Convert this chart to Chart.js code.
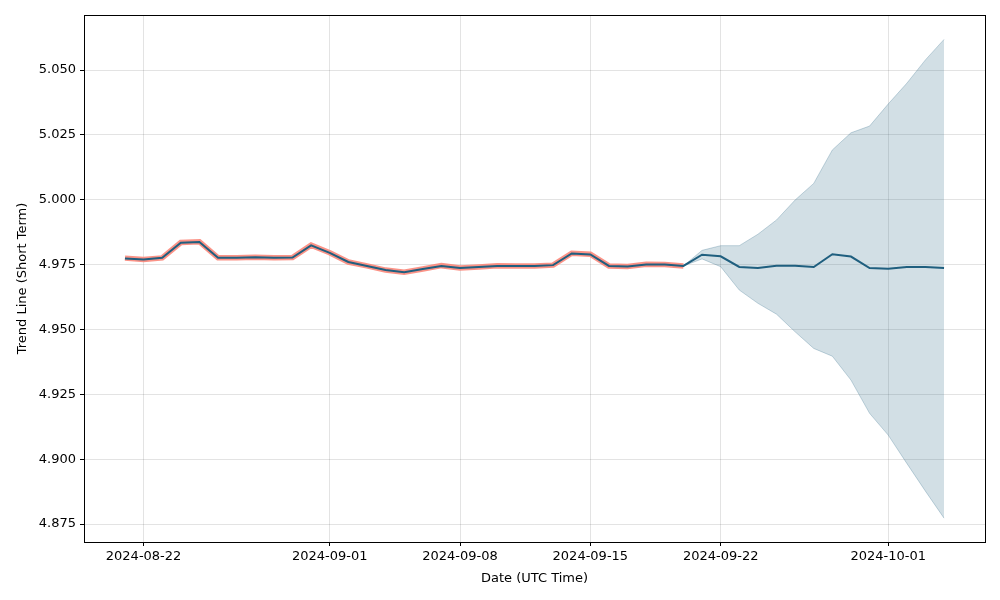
<!DOCTYPE html>
<html>
<head>
<meta charset="utf-8">
<script src="https://cdn.jsdelivr.net/npm/chart.js@4"></script>
<style>
  html, body { margin: 0; padding: 0; background: #fff; }
  #wrap { width: 1000px; height: 600px; position: relative; }
</style>
</head>
<body>
<div id="wrap"><canvas id="chart" width="1000" height="600"></canvas></div>
<script>
// dates, one per day from 2024-08-21 to 2024-10-04
const startDate = '2024-08-21';
const dayCount = 45;

// trend line (short term), whole range
const trendValues = [
    4.9774, 4.9770, 4.9776, 4.9834, 4.9837, 4.9776, 4.9776, 4.9778, 4.9776, 4.9777,
    4.9824, 4.9795, 4.9760, 4.9745, 4.9729, 4.9721, 4.9733, 4.9745, 4.9737, 4.9741,
    4.9745, 4.9745, 4.9745, 4.9748, 4.9793, 4.9789, 4.9745, 4.9743, 4.9750, 4.9750,
    4.9745, 4.9788, 4.9782, 4.9741, 4.9737, 4.9746, 4.9746, 4.9741, 4.9790, 4.9781,
    4.9737, 4.9734, 4.9741, 4.9741, 4.9737
];

// observed values, up to 2024-09-20
const actualValues = [
    4.9775, 4.9770, 4.9776, 4.9835, 4.9838, 4.9776, 4.9776, 4.9778, 4.9776, 4.9777,
    4.9825, 4.9796, 4.9760, 4.9745, 4.9729, 4.9721, 4.9733, 4.9746, 4.9737, 4.9741,
    4.9746, 4.9745, 4.9745, 4.9748, 4.9794, 4.9790, 4.9745, 4.9743, 4.9751, 4.9750,
    4.9745
];

// forecast band, from 2024-09-20 to 2024-10-04
const bandStart = 30;
const upperValues = [
    4.9745, 4.9805, 4.9823, 4.9823, 4.9867, 4.9922, 4.9999, 5.0063, 5.0192, 5.0258,
    5.0284, 5.0369, 5.0449, 5.0539, 5.0618
];
const lowerValues = [
    4.9745, 4.9772, 4.9742, 4.9652, 4.9601, 4.9559, 4.9491, 4.9427, 4.9397, 4.9305,
    4.9177, 4.9093, 4.8984, 4.8877, 4.8773
];

const xTickDates = ['2024-08-22', '2024-09-01', '2024-09-08', '2024-09-15', '2024-09-22', '2024-10-01'];
const yTicks = [4.875, 4.900, 4.925, 4.950, 4.975, 5.000, 5.025, 5.050];

const DAY = 86400000;
const t0 = Date.parse(startDate + 'T00:00:00Z');
const times = Array.from({ length: dayCount }, (_, i) => t0 + i * DAY);

const pts = (vals, offset = 0) => vals.map((v, i) => ({ x: times[i + offset], y: v }));

const frame = {
    id: 'frame',
    afterDraw(chart) {
        const { ctx, chartArea: a } = chart;
        ctx.save();
        ctx.strokeStyle = '#000';
        ctx.lineWidth = 1;
        ctx.strokeRect(Math.round(a.left) + 0.5, Math.round(a.top) + 0.5, Math.round(a.right - a.left), Math.round(a.bottom - a.top));
        ctx.restore();
    }
};

const font = { family: 'DejaVu Sans', size: 13 };

new Chart(document.getElementById('chart'), {
    type: 'line',
    data: {
        datasets: [
            {
                label: 'upper',
                data: pts(upperValues, bandStart),
                borderColor: 'rgba(31,95,127,0.25)',
                borderWidth: 1,
                pointRadius: 0,
                fill: false,
                order: 5
            },
            {
                label: 'lower',
                data: pts(lowerValues, bandStart),
                borderColor: 'rgba(31,95,127,0.25)',
                backgroundColor: 'rgba(31,95,127,0.2)',
                borderWidth: 1,
                pointRadius: 0,
                fill: '-1',
                order: 4
            },
            {
                label: 'actual',
                data: pts(actualValues),
                borderColor: 'rgba(250,128,114,0.85)',
                borderWidth: 5.5,
                pointRadius: 0,
                fill: false,
                order: 3
            },
            {
                label: 'trend',
                data: pts(trendValues),
                borderColor: '#1f5f7f',
                borderWidth: 2,
                pointRadius: 0,
                fill: false,
                order: 1
            }
        ]
    },
    options: {
        responsive: false,
        animation: false,
        layout: { padding: { left: 0, right: 15, top: 15, bottom: 0 } },
        plugins: { legend: { display: false }, tooltip: { enabled: false } },
        elements: { line: { tension: 0 } },
        scales: {
            x: {
                type: 'linear',
                min: t0 - 2.2 * DAY,
                max: times[dayCount - 1] + 2.2 * DAY,
                afterBuildTicks: s => { s.ticks = xTickDates.map(d => ({ value: Date.parse(d + 'T00:00:00Z') })); },
                afterFit: s => { s.height = 58; },
                ticks: {
                    autoSkip: false,
                    maxRotation: 0,
                    color: '#000',
                    font,
                    padding: 3,
                    callback: v => new Date(v).toISOString().slice(0, 10)
                },
                grid: { color: 'rgba(0,0,0,0.11)', tickColor: '#000', tickLength: 4, drawTicks: true },
                border: { display: false },
                title: { display: true, text: 'Date (UTC Time)', color: '#000', font, padding: { top: 0, bottom: 14 } }
            },
            y: {
                min: 4.8681,
                max: 5.0712,
                afterBuildTicks: s => { s.ticks = yTicks.map(v => ({ value: v })); },
                afterFit: s => { s.width = 84; },
                ticks: {
                    color: '#000',
                    font,
                    padding: 4,
                    callback: v => v.toFixed(3)
                },
                grid: { color: 'rgba(0,0,0,0.11)', tickColor: '#000', tickLength: 4 },
                border: { display: false },
                title: { display: true, text: 'Trend Line (Short Term)', color: '#000', font, padding: { top: 15, bottom: 0 } }
            }
        }
    },
    plugins: [frame]
});
</script>
</body>
</html>
